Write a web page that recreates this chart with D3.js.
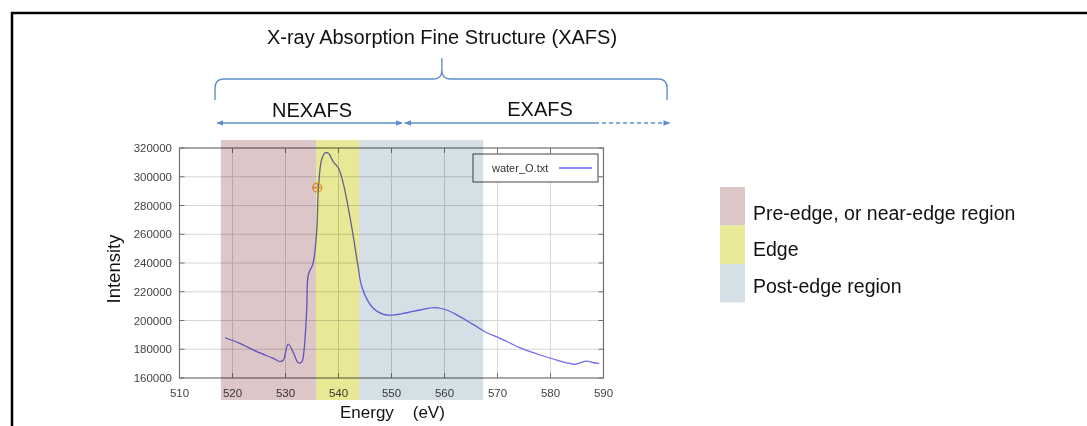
<!DOCTYPE html>
<html><head><meta charset="utf-8">
<script src="https://cdn.jsdelivr.net/npm/d3@7"></script>
<style>
body{margin:0;background:#fff;overflow:hidden}
text{font-family:Arial,"Liberation Sans",sans-serif}
</style>
</head><body>
<svg id="c" width="1087" height="426"></svg>
<script>
// ---- data ----
const energy = [518.6,521.4,524.6,527.7,529.0,529.6,530.5,531.5,532.4,533.1,533.5,534.0,534.3,535.2,535.9,536.2,536.8,537.5,538.1,539.0,540.0,540.9,541.8,542.8,543.7,544.4,546.3,548.5,550.3,552.9,555.4,558.2,560.4,562.9,565.4,568.0,570.5,574.2,578.0,581.2,583.7,584.6,585.6,586.8,588.1,589.2];
const intensity = [188000,184100,178300,173700,171400,172500,183600,177600,170600,171400,179500,207300,231700,239800,263000,290800,311650,316700,316300,310500,305900,295400,279200,258300,237400,223500,209600,204300,203800,205400,207300,208900,207300,202700,197300,191500,187600,181100,176000,172500,170100,169500,170600,171800,170600,170200];
const xTicks = [510,520,530,540,550,560,570,580,590];
const yTicks = [160000,180000,200000,220000,240000,260000,280000,300000,320000];
const seriesName = "water_O.txt";
const markerPoint = [536.0, 292400];
const regionNames = ["Pre-edge, or near-edge region","Edge","Post-edge region"];
const regionStart = [517.8,535.75,543.9];
const regionEnd = [535.75,543.9,567.3];
const regionColors = ["#dcc6c8","#e8e896","#d4e0e5"];
const regionIntensityRange = [144700, 325500];
const braceRange = [516.7, 559.5, 602.0];
const nexafsRange = [517.1, 552.0];
const exafsRange = [552.5, 588.4, 602.5];

// ---- chart ----
const svg = d3.select("#c");
const x = d3.scaleLinear().domain([510,590]).range([179.5,603.5]);
const y = d3.scaleLinear().domain([160000,320000]).range([378,148]);
const L = x(510), R = x(590), T = y(320000), B = y(160000);

// frame
svg.append("line").attr("x1",11).attr("x2",1087).attr("y1",13).attr("y2",13).attr("stroke","#000").attr("stroke-width",2.5);
svg.append("line").attr("x1",12).attr("x2",12).attr("y1",12).attr("y2",426).attr("stroke","#000").attr("stroke-width",2.5);

// grid
const g = svg.append("g");
g.selectAll(".gx").data(xTicks.slice(1,-1)).join("line").attr("x1",d=>x(d)).attr("x2",d=>x(d)).attr("y1",T).attr("y2",B).attr("stroke","#d6d6d6").attr("stroke-width",1);
g.selectAll(".gy").data(yTicks.slice(1,-1)).join("line").attr("x1",L).attr("x2",R).attr("y1",d=>y(d)).attr("y2",d=>y(d)).attr("stroke","#d6d6d6").attr("stroke-width",1);

// curve
const data = energy.map((e,i)=>[e,intensity[i]]);
g.append("path").datum(data)
 .attr("d", d3.line().x(d=>x(d[0])).y(d=>y(d[1])).curve(d3.curveCatmullRom.alpha(0.5)))
 .attr("fill","none").attr("stroke","#6f6af0").attr("stroke-width",1.3);

// marker
const mx = x(markerPoint[0]), my = y(markerPoint[1]);
const mc = "#f0a030";
g.append("circle").attr("cx",mx).attr("cy",my).attr("r",4.5).attr("fill","none").attr("stroke",mc).attr("stroke-width",1.2);
g.append("line").attr("x1",mx-4.5).attr("x2",mx+4.5).attr("y1",my).attr("y2",my).attr("stroke",mc).attr("stroke-width",1.2);
g.append("line").attr("x1",mx).attr("x2",mx).attr("y1",my-4.5).attr("y2",my+4.5).attr("stroke",mc).attr("stroke-width",1.2);

// border
g.append("rect").attr("x",L).attr("y",T).attr("width",R-L).attr("height",B-T).attr("fill","none").attr("stroke","#707070").attr("stroke-width",1.2);

// ticks (inward)
const tk = 5;
g.selectAll(".tb").data(xTicks).join("line").attr("x1",d=>x(d)).attr("x2",d=>x(d)).attr("y1",B).attr("y2",B-tk).attr("stroke","#707070");
g.selectAll(".tt").data(xTicks).join("line").attr("x1",d=>x(d)).attr("x2",d=>x(d)).attr("y1",T).attr("y2",T+tk).attr("stroke","#707070");
g.selectAll(".tl").data(yTicks).join("line").attr("x1",L).attr("x2",L+tk).attr("y1",d=>y(d)).attr("y2",d=>y(d)).attr("stroke","#707070");
g.selectAll(".tr").data(yTicks).join("line").attr("x1",R).attr("x2",R-tk).attr("y1",d=>y(d)).attr("y2",d=>y(d)).attr("stroke","#707070");

// tick labels
g.selectAll(".lx").data(xTicks).join("text").attr("x",d=>x(d)).attr("y",397).attr("text-anchor","middle").attr("font-size","11.5px").attr("fill","#444").text(d=>d);
g.selectAll(".ly").data(yTicks).join("text").attr("x",172).attr("y",d=>y(d)).attr("dy","0.36em").attr("text-anchor","end").attr("font-size","11.5px").attr("fill","#444").text(d=>d);

// axis titles
svg.append("text").attr("transform",`translate(120,${(T+B)/2+6}) rotate(-90)`).attr("text-anchor","middle").attr("font-size","18.5px").attr("fill","#111").text("Intensity");
svg.append("text").attr("x",340).attr("y",418).attr("font-size","17px").attr("fill","#111").attr("xml:space","preserve").style("white-space","pre").text("Energy    (eV)");

// legend box
const lg = svg.append("g");
lg.append("rect").attr("x",473).attr("y",154).attr("width",125).attr("height",28).attr("fill","#fff").attr("stroke","#444").attr("stroke-width",1);
lg.append("text").attr("x",492).attr("y",172).attr("font-size","11px").attr("fill","#333").text(seriesName);
lg.append("line").attr("x1",559).attr("x2",592).attr("y1",168).attr("y2",168).attr("stroke","#6464ff").attr("stroke-width",1.4);

// region bands (overlay)
svg.append("g").selectAll("rect").data(regionNames).join("rect")
 .attr("x",(d,i)=>x(regionStart[i])).attr("width",(d,i)=>x(regionEnd[i])-x(regionStart[i]))
 .attr("y",y(regionIntensityRange[1])).attr("height",y(regionIntensityRange[0])-y(regionIntensityRange[1]))
 .attr("fill",(d,i)=>regionColors[i]).style("mix-blend-mode","multiply");

// title & annotations
const blue = "#5f8fcb";
svg.append("text").attr("x",442).attr("y",44).attr("text-anchor","middle").attr("font-size","20px").attr("fill","#111").text("X-ray Absorption Fine Structure (XAFS)");
const bx0 = x(braceRange[0]), bxc = x(braceRange[1]), bx1 = x(braceRange[2]);
svg.append("path").attr("d",
 `M${bx0},100 L${bx0},88 Q${bx0},79 ${bx0+9},79 L${bxc-8},79 Q${bxc},79 ${bxc},70 L${bxc},58 M${bxc},70 Q${bxc},79 ${bxc+8},79 L${bx1-9},79 Q${bx1},79 ${bx1},88 L${bx1},100`)
 .attr("fill","none").attr("stroke",blue).attr("stroke-width",1.4);

svg.append("text").attr("x",312).attr("y",117).attr("text-anchor","middle").attr("font-size","20px").attr("fill","#111").text("NEXAFS");
svg.append("text").attr("x",540).attr("y",116).attr("text-anchor","middle").attr("font-size","20px").attr("fill","#111").text("EXAFS");

const defs = svg.append("defs");
function head(id, orient){
 defs.append("marker").attr("id",id).attr("viewBox","0 0 10 10").attr("refX",orient==="end"?9:1).attr("refY",5)
  .attr("markerWidth",7).attr("markerHeight",7).attr("markerUnits","userSpaceOnUse").attr("orient","auto")
  .append("path").attr("d",orient==="end"?"M0,1 L10,5 L0,9 Z":"M10,1 L0,5 L10,9 Z").attr("fill",blue);
}
head("ae","end"); head("as","start");
const ay = 123;
svg.append("line").attr("x1",x(nexafsRange[0])).attr("x2",x(nexafsRange[1])).attr("y1",ay).attr("y2",ay).attr("stroke",blue).attr("stroke-width",1.3).attr("marker-start","url(#as)").attr("marker-end","url(#ae)");
svg.append("line").attr("x1",x(exafsRange[0])).attr("x2",x(exafsRange[1])).attr("y1",ay).attr("y2",ay).attr("stroke",blue).attr("stroke-width",1.3).attr("marker-start","url(#as)");
svg.append("line").attr("x1",x(exafsRange[1])).attr("x2",x(exafsRange[2])).attr("y1",ay).attr("y2",ay).attr("stroke",blue).attr("stroke-width",1.3).attr("stroke-dasharray","4,3").attr("marker-end","url(#ae)");

// region legend
const rl = svg.append("g");
rl.selectAll("rect").data(regionNames).join("rect").attr("x",720).attr("y",(d,i)=>187+i*38.5).attr("width",25).attr("height",38.5).attr("fill",(d,i)=>regionColors[i]);
rl.selectAll("text").data(regionNames).join("text").attr("x",753).attr("y",(d,i)=>213+i*36.5).attr("dy","0.35em").attr("font-size","19.5px").attr("fill","#111").text(d=>d);
</script>
</body></html>
